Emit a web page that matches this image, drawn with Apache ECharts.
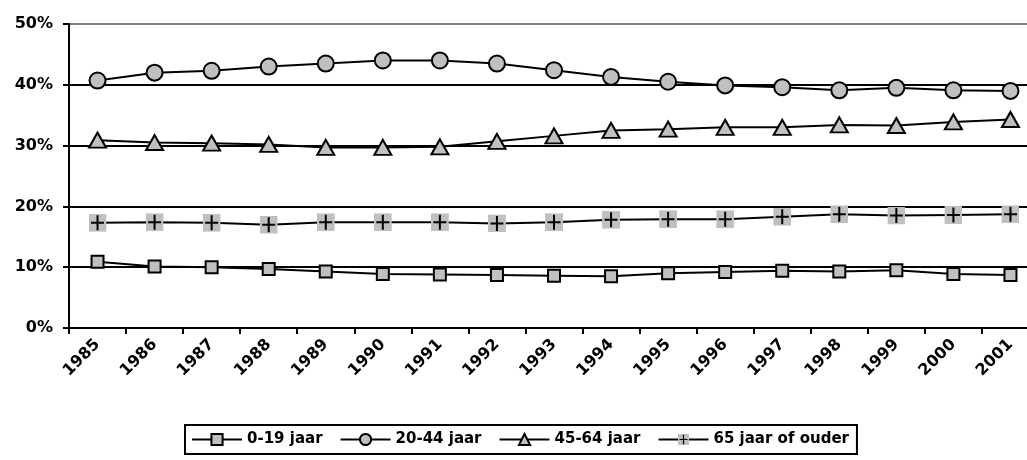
<!DOCTYPE html>
<html>
<head>
<meta charset="utf-8">
<script src="https://cdn.jsdelivr.net/npm/echarts@6/dist/echarts.min.js"></script>
<style>
  html, body { margin: 0; padding: 0; background: #fff; overflow: hidden; }
  /* the chart is a little wider than the window; its right edge is cut off */
  #chart { width: 1045px; height: 460px; }
</style>
</head>
<body>
<div id="chart"></div>
<script>
// Share of population by age group, 1985-2001 (percent)
const years = ['1985','1986','1987','1988','1989','1990','1991','1992','1993','1994','1995','1996','1997','1998','1999','2000','2001'];
const age0to19  = [10.9, 10.1, 10.0, 9.7, 9.3, 8.9, 8.8, 8.7, 8.6, 8.5, 9.0, 9.2, 9.4, 9.3, 9.5, 8.9, 8.7];
const age20to44 = [40.7, 42.0, 42.3, 43.0, 43.5, 44.0, 44.0, 43.5, 42.4, 41.3, 40.5, 39.9, 39.6, 39.1, 39.5, 39.1, 39.0];
const age45to64 = [30.9, 30.5, 30.4, 30.2, 29.7, 29.7, 29.8, 30.7, 31.6, 32.5, 32.7, 33.0, 33.0, 33.4, 33.3, 33.9, 34.3];
const age65plus = [17.3, 17.4, 17.3, 17.0, 17.4, 17.4, 17.4, 17.2, 17.4, 17.8, 17.9, 17.9, 18.3, 18.7, 18.5, 18.6, 18.7];
const seriesNames = ['0-19 jaar', '20-44 jaar', '45-64 jaar', '65 jaar of ouder'];
const yTicks = [0, 10, 20, 30, 40, 50];

const GREY = '#c0c0c0';
const plusIcon = 'image://data:image/svg+xml;utf8,' + encodeURIComponent(
  "<svg xmlns='http://www.w3.org/2000/svg' width='18' height='18' viewBox='0 0 18 18'>" +
  "<rect width='18' height='18' fill='#c0c0c0'/>" +
  "<path d='M9 1.5V16.5M2.5 9H15.5' stroke='#000' stroke-width='2'/></svg>");

const lineStyle = { color: '#000', width: 2 };
const markerStyle = { color: GREY, borderColor: '#000', borderWidth: 2 };

function makeSeries(name, data, symbol, size) {
  return {
    name, type: 'line', data,
    symbol, symbolSize: size,
    showAllSymbol: true,
    lineStyle, itemStyle: markerStyle,
    emphasis: { disabled: true },
    animation: false
  };
}

const chart = echarts.init(document.getElementById('chart'), null, { renderer: 'canvas' });
chart.setOption({
  backgroundColor: '#fff',
  animation: false,
  textStyle: { fontFamily: 'DejaVu Sans', fontWeight: 'bold', color: '#000' },
  grid: { left: 69, top: 24, bottom: 132, right: 6, containLabel: false },
  legend: {
    data: seriesNames,
    left: 185, top: 425,
    itemWidth: 50, itemHeight: 14, itemGap: 17,
    padding: [7, 8, 7, 6],
    borderColor: '#000', borderWidth: 2,
    textStyle: { fontFamily: 'DejaVu Sans', fontWeight: 'bold', fontSize: 15, color: '#000' }
  },
  xAxis: {
    type: 'category', data: years, boundaryGap: true,
    axisLine: { lineStyle: { color: '#000', width: 2 } },
    axisTick: { show: true, inside: false, length: 6, lineStyle: { color: '#000', width: 2 } },
    axisLabel: { rotate: 45, margin: 14, fontSize: 16, fontWeight: 'bold', fontFamily: 'DejaVu Sans', color: '#000', interval: 0 }
  },
  yAxis: {
    type: 'value', min: yTicks[0], max: yTicks[yTicks.length - 1], interval: 10,
    axisLine: { show: true, lineStyle: { color: '#000', width: 2 } },
    axisTick: { show: true, inside: false, length: 6, lineStyle: { color: '#000', width: 2 } },
    axisLabel: { formatter: '{value}%', margin: 16, fontSize: 16, fontWeight: 'bold', fontFamily: 'DejaVu Sans', color: '#000' },
    splitLine: { show: true, lineStyle: { color: ['#000', '#000', '#000', '#000', '#000', '#808080'], width: 2 } }
  },
  series: [
    makeSeries(seriesNames[0], age0to19, 'rect', 12),
    makeSeries(seriesNames[1], age20to44, 'circle', 16),
    makeSeries(seriesNames[2], age45to64, 'triangle', [17, 15]),
    Object.assign(makeSeries(seriesNames[3], age65plus, plusIcon, 18), { itemStyle: { color: GREY } })
  ]
});
</script>
</body>
</html>
